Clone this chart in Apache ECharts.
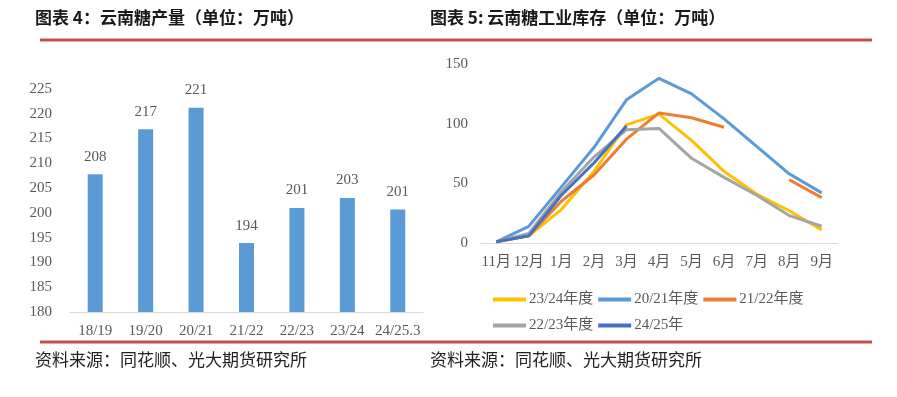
<!DOCTYPE html>
<html>
<head>
<meta charset="utf-8">
<script src="https://cdn.jsdelivr.net/npm/echarts@6/dist/echarts.min.js"></script>
<style>
  html, body { margin: 0; padding: 0; background: #fff; }
  #main { width: 897px; height: 397px; }
</style>
</head>
<body>
<div id="main"></div>
<script>
// 图表4 产量
const seasons = ['18/19', '19/20', '20/21', '21/22', '22/23', '23/24', '24/25.3']
const output = [207.8, 216.9, 221.2, 193.9, 201.0, 203.0, 200.7]

// 图表5 工业库存
const months = ['11月', '12月', '1月', '2月', '3月', '4月', '5月', '6月', '7月', '8月', '9月']
const stock2324 = [1, 6, 28, 60, 99, 108, 86, 60, 41, 27, 11]
const stock2021 = [1, 14, 47, 80, 120, 138, 125, 104, 81, 58, 42]
const stock2122 = [1, 6, 35, 57, 87, 109, 105, 97, null, 53, 38]
const stock2223 = [1, 8, 43, 72, 95, 96, 71, 55, 40, 23, 14]
const stock2425 = [1, 6, 40, 67, 98]

const serif = 'Liberation Serif, Noto Sans CJK SC'
const gray = '#595959'
const red = '#C0504D'

let myChart = echarts.init(document.getElementById('main'))

function lineSeries (name, data, color) {
  return {
    name: name,
    type: 'line',
    xAxisIndex: 1,
    yAxisIndex: 1,
    data: data,
    showSymbol: false,
    symbol: 'none',
    connectNulls: false,
    lineStyle: { width: 3, color: color },
    itemStyle: { color: color }
  }
}

let option = {
  animation: false,
  title: [
    {
      text: '图表 4：云南糖产量（单位：万吨）',
      left: 30,
      top: 4,
      textStyle: { fontFamily: 'Noto Sans CJK SC', fontWeight: 'bold', fontSize: 17, color: '#1a1a1a' }
    },
    {
      text: '图表 5: 云南糖工业库存（单位：万吨）',
      left: 425,
      top: 4,
      textStyle: { fontFamily: 'Noto Sans CJK SC', fontWeight: 'bold', fontSize: 17, color: '#1a1a1a' }
    },
    {
      text: '资料来源：同花顺、光大期货研究所',
      left: 30,
      top: 346,
      textStyle: { fontFamily: 'Noto Sans CJK SC', fontWeight: 'normal', fontSize: 17, color: '#222' }
    },
    {
      text: '资料来源：同花顺、光大期货研究所',
      left: 425,
      top: 346,
      textStyle: { fontFamily: 'Noto Sans CJK SC', fontWeight: 'normal', fontSize: 17, color: '#222' }
    }
  ],
  graphic: [
    { type: 'line', shape: { x1: 40, y1: 40, x2: 872, y2: 40 }, style: { stroke: red, lineWidth: 3 } },
    { type: 'line', shape: { x1: 40, y1: 342, x2: 872, y2: 342 }, style: { stroke: red, lineWidth: 3 } }
  ],
  legend: [
    {
      left: 488,
      top: 287,
      icon: 'rect',
      itemWidth: 33,
      itemHeight: 4,
      itemGap: 5,
      textStyle: { fontFamily: serif, fontSize: 15, color: gray, padding: [0, 0, 0, -2] },
      data: ['23/24年度', '20/21年度', '21/22年度']
    },
    {
      left: 488,
      top: 313,
      icon: 'rect',
      itemWidth: 33,
      itemHeight: 4,
      itemGap: 5,
      textStyle: { fontFamily: serif, fontSize: 15, color: gray, padding: [0, 0, 0, -2] },
      data: ['22/23年度', '24/25年']
    }
  ],
  grid: [
    { left: 70, right: 474, top: 89, bottom: 85 },
    { left: 480, right: 59, top: 64, bottom: 154 }
  ],
  xAxis: [
    {
      type: 'category',
      gridIndex: 0,
      data: seasons,
      axisLine: { lineStyle: { color: '#d9d9d9' } },
      axisTick: { show: false },
      axisLabel: { fontFamily: serif, fontSize: 15, color: gray, margin: 12, interval: 0 }
    },
    {
      type: 'category',
      gridIndex: 1,
      data: months,
      axisLine: { lineStyle: { color: '#d9d9d9' } },
      axisTick: { show: false },
      axisLabel: { fontFamily: serif, fontSize: 15, color: gray, margin: 12, interval: 0 }
    }
  ],
  yAxis: [
    {
      type: 'value',
      gridIndex: 0,
      min: 180,
      max: 225,
      interval: 5,
      splitLine: { show: false },
      axisLine: { show: false },
      axisLabel: { fontFamily: serif, fontSize: 15, color: gray, margin: 18 }
    },
    {
      type: 'value',
      gridIndex: 1,
      min: 0,
      max: 150,
      interval: 50,
      splitLine: { show: false },
      axisLine: { show: false },
      axisLabel: { fontFamily: serif, fontSize: 15, color: gray, margin: 12 }
    }
  ],
  series: [
    {
      name: '产量',
      type: 'bar',
      xAxisIndex: 0,
      yAxisIndex: 0,
      data: output,
      barWidth: 15,
      itemStyle: { color: '#5B9BD5' },
      label: {
        show: true,
        position: 'top',
        distance: 10,
        fontFamily: serif,
        fontSize: 15,
        color: gray,
        formatter: p => Math.round(p.value)
      }
    },
    lineSeries('23/24年度', stock2324, '#FFC000'),
    lineSeries('20/21年度', stock2021, '#5B9BD5'),
    lineSeries('21/22年度', stock2122, '#ED7D31'),
    lineSeries('22/23年度', stock2223, '#A5A5A5'),
    lineSeries('24/25年', stock2425, '#4472C4')
  ]
}

myChart.setOption(option)
</script>
</body>
</html>
